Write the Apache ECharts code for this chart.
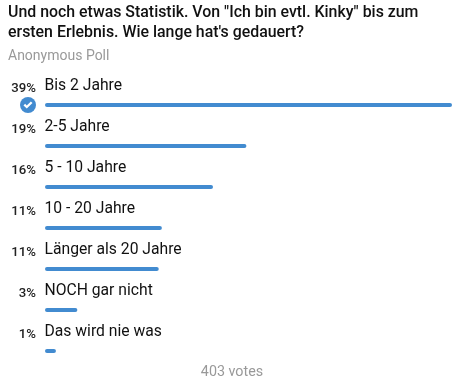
<!DOCTYPE html>
<html>
<head>
<meta charset="utf-8">
<style>
  html, body { margin: 0; padding: 0; background: #fff; }
  #chart { width: 452px; height: 386px; }
</style>
<script src="https://cdn.jsdelivr.net/npm/echarts@6/dist/echarts.min.js"></script>
</head>
<body>
<div id="chart"></div>
<script>
// Antworten, von oben nach unten
const answers = ['Bis 2 Jahre', '2-5 Jahre', '5 - 10 Jahre', '10 - 20 Jahre', 'Länger als 20 Jahre', 'NOCH gar nicht', 'Das wird nie was'];
// Balkenlänge, aus dem Bild gelesen
const shares = [39, 19.3, 16.1, 11.2, 10.9, 3.1, 1.05];
// Beschriftung links
const percentLabels = ['39%', '19%', '16%', '11%', '11%', '3%', '1%'];

const question = 'Und noch etwas Statistik. Von "Ich bin evtl. Kinky" bis zum\nersten Erlebnis. Wie lange hat\'s gedauert?';
const pollType = 'Anonymous Poll';
const votes = '403 votes';

const BLUE = '#428bd0';
const FONT = 'Roboto';

const chart = echarts.init(document.getElementById('chart'));

chart.setOption({
    animation: false,
    backgroundColor: '#fff',
    title: [
        {
            text: question,
            subtext: pollType,
            left: 8,
            top: 3,
            padding: 0,
            itemGap: 6,
            textStyle: { fontFamily: FONT, fontSize: 15.9, fontWeight: 500, color: '#111', lineHeight: 20 },
            subtextStyle: { fontFamily: FONT, fontSize: 14, color: '#999' }
        },
        {
            text: votes,
            left: 232,
            top: 365,
            padding: 0,
            textAlign: 'center',
            textStyle: { fontFamily: FONT, fontSize: 14.3, fontWeight: 400, color: '#999' }
        }
    ],
    grid: { left: 45, right: 0, top: 84.5, bottom: 14.5 },
    xAxis: { type: 'value', min: 0, max: 39, show: false },
    yAxis: {
        type: 'category',
        data: answers,
        inverse: true,
        axisLine: { show: false },
        axisTick: { show: false },
        axisLabel: { show: false }
    },
    series: [
        {
            type: 'bar',
            data: shares,
            barWidth: 4,
            barGap: '-100%',
            itemStyle: { color: BLUE, borderRadius: 2 },
            label: {
                show: true,
                position: [-0.5, -25],
                fontFamily: FONT,
                fontSize: 15.7,
                color: '#111',
                formatter: (p) => answers[p.dataIndex]
            },
            markPoint: {
                silent: true,
                label: { show: false },
                data: [
                    // Haken der eigenen Stimme
                    { coord: [0, answers[0]], symbol: 'circle', symbolSize: 16, symbolOffset: [-17, 0], itemStyle: { color: BLUE } },
                    { coord: [0, answers[0]], symbol: 'path://M0 5 L2 3 L4 5 L9 0 L11 2 L4 9 Z', symbolSize: [9, 7], symbolOffset: [-17, 0], itemStyle: { color: '#fff' } }
                ]
            }
        },
        {
            // nur für die Prozentzahlen
            type: 'bar',
            data: answers.map(() => 0),
            barWidth: 4,
            itemStyle: { color: 'transparent' },
            z: 1,
            label: {
                show: true,
                position: [-9, -21],
                align: 'right',
                fontFamily: FONT,
                fontSize: 13.2,
                fontWeight: 500,
                color: '#222',
                formatter: (p) => percentLabels[p.dataIndex]
            }
        }
    ]
});
</script>
</body>
</html>
